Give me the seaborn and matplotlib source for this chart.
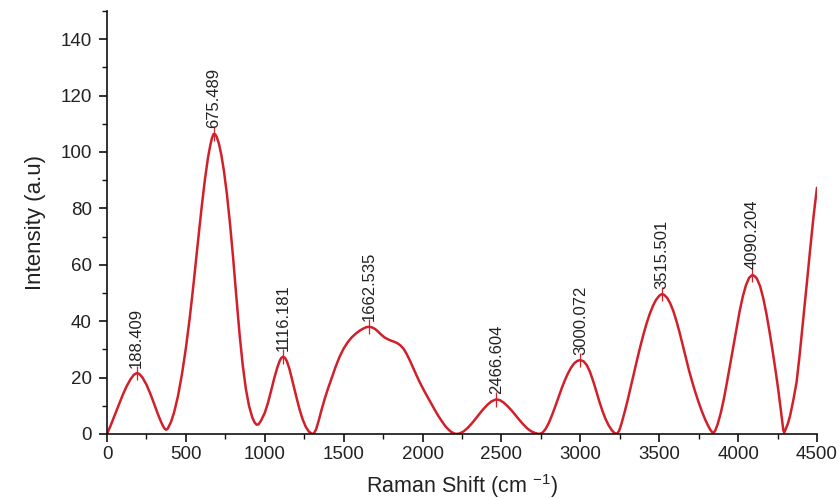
import numpy as np
import pandas as pd
import matplotlib
matplotlib.use("Agg")
import matplotlib.pyplot as plt
from matplotlib.ticker import MultipleLocator
import seaborn as sns

# Raman spectrum (Raman shift in cm^-1, intensity in a.u.)
raman_shift = [
    0, 25, 50, 75, 100, 125, 150, 170, 188.409, 205, 225, 250, 275, 300, 320, 340, 355, 365, 374,
    385, 405, 425, 450, 475, 500, 525, 550, 575, 600, 620, 640, 655, 665, 675.489,
    685, 695, 710, 725, 741, 760, 780, 800, 820, 840, 860, 880, 900, 920, 935, 948,
    960, 975, 1000, 1020, 1040, 1060, 1080, 1095, 1105, 1116.181, 1128, 1140, 1155, 1170,
    1185, 1202, 1220, 1240, 1260, 1280, 1300, 1310,
    1325, 1340, 1360, 1380, 1400, 1425, 1450, 1475, 1500, 1525, 1550, 1575, 1600, 1625,
    1645, 1662.535, 1680, 1700, 1720, 1740, 1760, 1780, 1800, 1820, 1840, 1860, 1880,
    1900, 1920, 1940, 1960, 1980, 2000, 2020, 2040, 2060, 2080, 2100, 2120, 2140, 2160,
    2180, 2200, 2215,
    2235, 2260, 2285, 2310, 2335, 2360, 2385, 2410, 2435, 2466.604, 2490, 2515, 2540,
    2565, 2590, 2615, 2640, 2665, 2690, 2715, 2740,
    2760, 2780, 2800, 2820, 2840, 2860, 2880, 2900, 2920, 2940, 2960, 2980, 3000.072,
    3020, 3040, 3060, 3080, 3100, 3120, 3140, 3160, 3180, 3200, 3215, 3230,
    3245, 3260, 3280, 3300, 3320, 3340, 3360, 3380, 3400, 3420, 3440, 3460, 3480, 3500,
    3515.501, 3530, 3550, 3570, 3590, 3610, 3630, 3650, 3670, 3690, 3710, 3730, 3750,
    3770, 3790, 3810, 3825, 3842,
    3855, 3870, 3890, 3910, 3930, 3950, 3970, 3990, 4010, 4030, 4050, 4070, 4090.204,
    4105, 4120, 4140, 4160, 4180, 4200, 4220, 4240, 4255, 4268, 4278, 4286, 4292,
    4300, 4315, 4330, 4350, 4371, 4390, 4410, 4434, 4455, 4476, 4490, 4500,
]
intensity = [
    0, 3.3, 6.8, 10.4, 13.9, 17, 19.5, 21, 21.6, 21.3, 20, 17.5, 14.2, 10.5, 7.4, 4.6, 2.8, 1.9, 1.5,
    1.9, 4.2, 7.6, 13.5, 21.2, 30.5, 41.5, 54, 67.5, 80.5, 90, 98, 102.5, 104.9, 106.4,
    106.3, 105.4, 102.8, 98.8, 93.3, 85, 74.3, 62, 48.5, 35.5, 24.5, 16, 10, 6, 4.1, 3.3,
    3.4, 4.6, 7.5, 11, 15.3, 19.8, 23.7, 26, 27, 27.4, 27, 25.8, 23.3, 20,
    16.5, 12.7, 8.8, 5.2, 2.5, 0.8, 0.1, 0.1,
    1.6, 4.4, 8.6, 12.5, 16, 20, 24, 27.5, 30.3, 32.5, 34.2, 35.5, 36.6, 37.4,
    37.9, 38, 37.8, 37.2, 36.2, 35.1, 34.2, 33.6, 33.1, 32.7, 32.2, 31.4, 30.2,
    28.3, 26, 23.5, 21, 18.6, 16.4, 14.3, 12.3, 10.3, 8.3, 6.4, 4.7, 3.1, 1.8,
    0.8, 0.2, 0,
    0.2, 0.9, 2.1, 3.6, 5.3, 7.1, 8.8, 10.3, 11.5, 12.3, 12, 11.1, 9.8,
    8.3, 6.6, 4.9, 3.3, 1.9, 0.9, 0.3, 0,
    0.4, 1.8, 3.9, 6.6, 9.6, 12.8, 15.9, 18.8, 21.3, 23.4, 25, 25.9, 26.2,
    25.8, 24.5, 22.2, 19, 15.4, 11.6, 8.2, 5.3, 3, 1.3, 0.4, 0,
    1, 3.5, 7.6, 12, 16.8, 21.6, 26.4, 31, 35.3, 39.2, 42.6, 45.4, 47.6, 49,
    49.6, 49.4, 48.3, 46.3, 43.5, 39.9, 35.8, 31.3, 26.7, 22.3, 18.3, 14.6, 11.2,
    8.1, 5.3, 2.9, 1.4, 0.2,
    1.2, 3.4, 7.4, 12.5, 18.5, 24.8, 31.2, 37.6, 43.6, 48.8, 52.8, 55.4, 56.4,
    56, 55, 52.3, 48, 42.5, 36, 29, 21.5, 15.5, 9.8, 5.3, 1.5, 0.5,
    1.5, 3.6, 6.6, 12, 18.5, 28, 39, 52.5, 64.5, 76, 82.8, 87.3,
]

# Labelled peak positions
peak_positions = [188.409, 675.489, 1116.181, 1662.535, 2466.604, 3000.072, 3515.501, 4090.204]
peak_labels = ["188.409", "675.489", "1116.181", "1662.535", "2466.604", "3000.072", "3515.501", "4090.204"]

x_ticks = [0, 500, 1000, 1500, 2000, 2500, 3000, 3500, 4000, 4500]
y_ticks = [0, 20, 40, 60, 80, 100, 120, 140]

spectrum = pd.DataFrame({"shift": raman_shift, "intensity": intensity})

sns.set_theme(style="ticks")
plt.rcParams["font.family"] = ["Liberation Sans", "DejaVu Sans"]
plt.rcParams["mathtext.fontset"] = "custom"
plt.rcParams["mathtext.rm"] = "Liberation Sans"
plt.rcParams["mathtext.it"] = "Liberation Sans"

line_color = "#d2202a"

fig = plt.figure(figsize=(8.4, 4.99), dpi=100)
ax = fig.add_axes([0.1274, 0.1303, 0.8452, 0.8477])

sns.lineplot(data=spectrum, x="shift", y="intensity", ax=ax,
             color=line_color, linewidth=1.8, sort=True, estimator=None)
for ln in ax.get_lines():
    ln.set_solid_joinstyle("round")

# Peak markers and labels
peak_heights = np.interp(peak_positions, raman_shift, intensity)
ax.vlines(peak_positions, peak_heights - 2.6, peak_heights + 2.6,
          color=line_color, linewidth=0.9)
for px, py, txt in zip(peak_positions, peak_heights, peak_labels):
    ax.annotate(txt, xy=(px, py), xytext=(0, 4), textcoords="offset points",
                rotation=90, ha="center", va="bottom", fontsize=12, color="#222222")

ax.set_xlim(0, 4500)
ax.set_ylim(0, 150)
ax.set_xticks(x_ticks)
ax.set_yticks(y_ticks)
ax.xaxis.set_minor_locator(MultipleLocator(250))
ax.yaxis.set_minor_locator(MultipleLocator(10))

for side in ("top", "right"):
    ax.spines[side].set_visible(False)
for side in ("left", "bottom"):
    ax.spines[side].set_color("#111111")
    ax.spines[side].set_linewidth(1.2)

ax.tick_params(axis="both", which="major", direction="out", length=6, width=1.2,
               color="#111111", labelsize=13.5, labelcolor="#222222", pad=3)
ax.tick_params(axis="y", which="major", pad=5)
ax.tick_params(axis="both", which="minor", direction="out", length=3.5, width=1.0,
               color="#111111")

ax.set_xlabel(r"Raman Shift (cm $^{-1}$)", fontsize=15.5, color="#222222", labelpad=6)
ax.set_ylabel("Intensity (a.u)", fontsize=16, color="#222222", labelpad=10)

fig.savefig("out.png", dpi=100, facecolor="white")
